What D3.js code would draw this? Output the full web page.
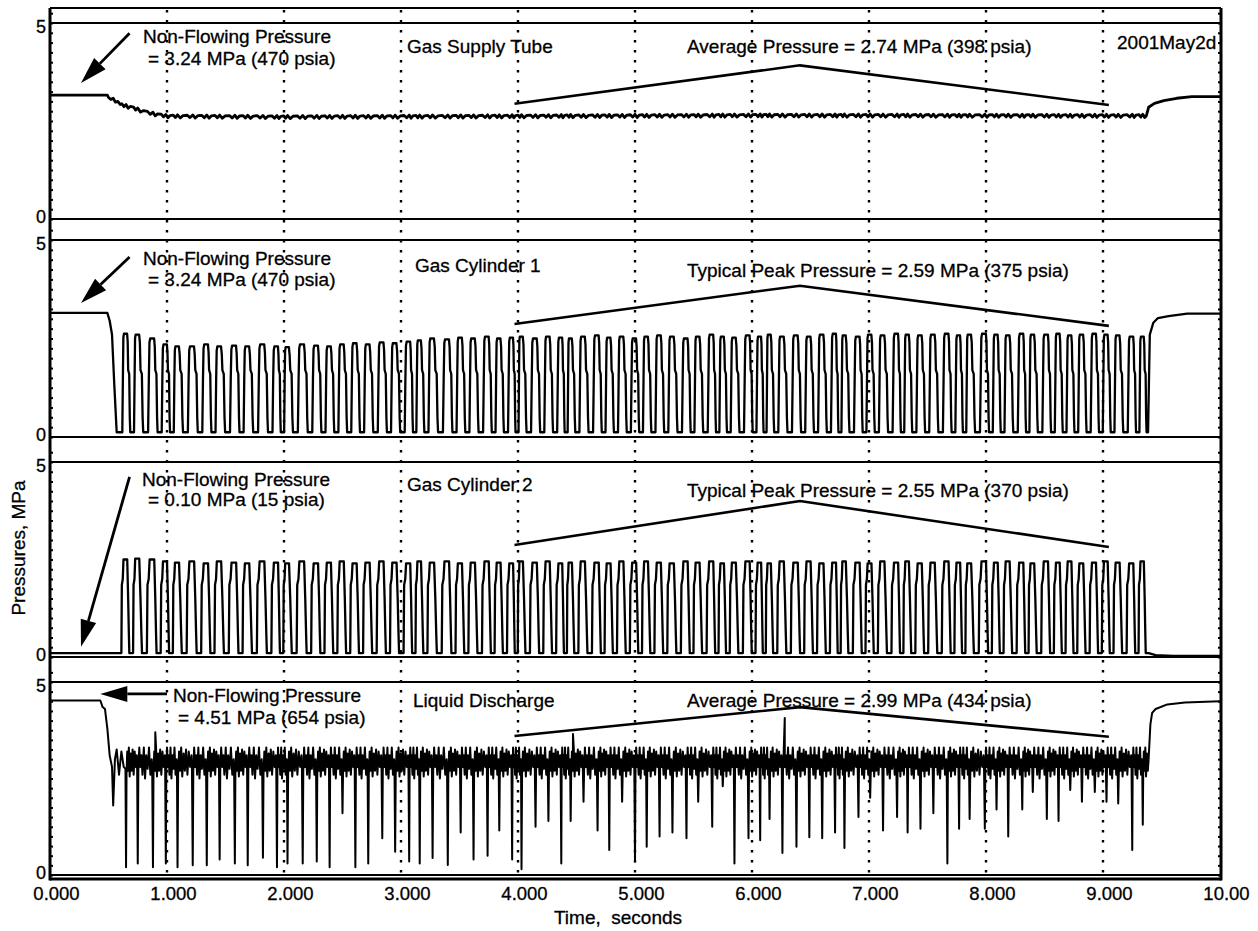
<!DOCTYPE html>
<html><head><meta charset="utf-8">
<script src="https://cdn.jsdelivr.net/npm/d3@7"></script>
<style>
body{margin:0;background:#fff}
svg{display:block}
text{font-family:"Liberation Sans",Arial,Helvetica,sans-serif;fill:#000;stroke:#000;stroke-width:0.3px}
</style></head>
<body><svg id="c" width="1258" height="931"></svg>
<script>
// ---------------- data ----------------
const xTicks = [0,1,2,3,4,5,6,7,8,9,10];
const xTickLabels = ["0.000","1.000","2.000","3.000","4.000","5.000","6.000","7.000","8.000","9.000","10.00"];
const yTicks = [0,5];
const panelNames = ["Gas Supply Tube","Gas Cylinder 1","Gas Cylinder 2","Liquid Discharge"];
const valueNotes = [
  "Average Pressure = 2.74 MPa (398 psia)",
  "Typical Peak Pressure = 2.59 MPa (375 psia)",
  "Typical Peak Pressure = 2.55 MPa (370 psia)",
  "Average Pressure = 2.99 MPa (434 psia)"];
const nonFlowNotes = [
  "= 3.24 MPa (470 psia)",
  "= 3.24 MPa (470 psia)",
  "= 0.10 MPa (15 psia)",
  "= 4.51 MPa (654 psia)"];

// times (s) of each compression cycle, read from the liquid-discharge spikes
const cycleTimes = [0.65,0.75,0.88,0.99,1.09,1.22,1.34,1.45,1.58,1.69,1.82,1.94,2.03,2.16,2.28,2.39,2.50,2.61,2.72,2.84,2.95,3.07,
3.16,3.27,3.40,3.51,3.62,3.74,3.84,3.95,4.03,4.15,4.26,4.37,4.45,4.56,4.68,4.78,4.89,5.00,5.10,5.21,5.32,5.44,5.54,5.66,5.75,5.85,5.97,6.07,6.15,6.26,6.38,6.49,6.60,6.71,6.79,6.91,
7.01,7.12,7.24,7.33,7.44,7.55,7.67,7.77,7.86,7.99,8.09,8.19,8.31,8.40,8.52,8.62,8.72,8.82,8.93,9.03,9.13,9.25,9.34];

// Gas supply tube (MPa)
const supplyStart = [[0,3.16],[0.49,3.16],[0.50,3.10],[0.52,3.05],[0.54,3.08],[0.56,2.98],[0.58,3.00],[0.60,2.92]];
const supplyLevel = [[0.6,2.92],[0.7,2.84],[0.8,2.74],[0.9,2.67],[1.0,2.62],[2.0,2.60],[4.0,2.62],[6.0,2.64],[9.4,2.63]];
const supplyEnd = [[9.37,2.63],[9.39,2.85],[9.44,2.95],[9.52,3.02],[9.63,3.08],[9.76,3.12],[10,3.12]];

// Gas cylinder 1 (MPa)
const cyl1Start = [[0,3.15],[0.49,3.15],[0.51,2.95],[0.53,2.6],[0.55,1.3],[0.57,0.12]];
const cyl1Peaks = [2.62,2.6,2.5,
 2.35,2.3,2.3,2.35,2.3,2.32,2.3,2.35,2.3,2.28,2.35,2.32,2.3,2.35,2.38,2.35,2.4,2.38,2.42,
 2.45,2.5,2.48,2.52,2.5,2.55,2.5,2.52,2.55,2.5,2.55,2.52,2.5,2.55,2.58,2.52,2.55,2.5,2.55,2.58,
 2.55,2.5,2.55,2.6,2.55,2.52,2.58,2.55,2.6,2.55,2.58,2.55,2.6,2.62,2.58,2.55,2.6,2.58,2.62,2.6,
 2.58,2.6,2.62,2.58,2.6,2.62,2.6,2.58,2.62,2.6,2.6,2.62,2.58,2.6,2.62,2.6,2.58,2.55,2.55];
const cyl1Low = 0.12;
const cyl1End = [[9.385,0.12],[9.40,2.6],[9.43,2.9],[9.47,3.02],[9.56,3.07],[9.72,3.13],[10,3.13]];

// Gas cylinder 2 (MPa)
const cyl2Start = [[0,0.1],[0.56,0.1]];
const cyl2Peaks = [2.5,2.52,2.5,2.45,2.42,2.45,2.4,2.45,2.42,2.4,2.45,2.42,2.4,2.45,2.4,2.42,2.45,2.4,2.42,2.45,
 2.42,2.4,2.45,2.42,2.45,2.4,2.42,2.45,2.42,2.4,2.45,2.42,2.45,2.4,2.42,2.45,2.42,2.4,2.45,2.42,
 2.45,2.42,2.4,2.45,2.42,2.45,2.4,2.42,2.45,2.42,2.4,2.45,2.42,2.45,2.4,2.42,2.45,2.42,2.4,2.45,
 2.42,2.45,2.4,2.42,2.45,2.42,2.4,2.45,2.42,2.45,2.42,2.4,2.45,2.42,2.45,2.4,2.42,2.45,2.42,2.4,2.45];
const cyl2Low = 0.1;
const cyl2End = [[9.39,0.1],[9.45,0.05],[9.6,0.03],[10,0.03]];

// Liquid discharge (MPa)
const liquidStart = [[0,4.52],[0.43,4.52],[0.45,4.35],[0.47,4.3],[0.49,3.8],[0.51,3.1],[0.53,2.8],[0.54,1.8],[0.555,3.0],[0.57,3.25],[0.59,2.6],[0.61,3.2],[0.63,2.8]];
const liquidLows = [0.2,0.3,0.2,0.3,0.2,0.25,0.25,0.4,0.3,0.25,0.45,0.2,0.3,0.3,0.35,0.2,1.6,0.2,0.3,0.95,0.6,0.35,
 0.3,0.44,0.26,1.1,0.4,0.5,1.15,0.4,0.15,1.25,1.4,0.3,1.4,1.9,1.15,0.65,1.9,0.35,0.73,1.0,1.1,0.95,1.9,1.25,2.3,0.3,0.95,0.9,1.45,0.57,0.73,0.98,0.95,1.1,0.7,1.5,
 2.0,1.15,1.5,1.1,1.2,1.6,0.3,1.2,1.45,1.2,1.7,1.0,1.7,2.15,1.45,1.4,2.2,1.9,2.15,1.9,1.85,0.65,1.3];
const liquidUpSpikes = [[0.90,3.7],[2.16,4.0],[4.47,3.65],[6.28,4.07]];
const liquidEnd = [[9.39,3.0],[9.405,3.9],[9.42,4.2],[9.45,4.3],[9.55,4.42],[9.7,4.47],[10,4.5]];

// annotation brackets (time s, MPa)
const bracketT = [3.97,6.41,9.05];
const bracketV = [[2.94,3.92,2.91],[2.87,3.84,2.82],[2.87,4.0,2.82],[3.6,4.35,3.58]];
// arrows (time s, MPa): from -> to
const arrowFrom = [[0.68,4.74],[0.68,4.57],[0.68,4.62],[1.0,4.69]];
const arrowTo   = [[0.265,3.47],[0.265,3.4],[0.265,0.26],[0.43,4.69]];

// ---------------- layout ----------------
const svg = d3.select("#c");
const L = 50, R = 1221, T = 8, B = 879;
const xs = d3.scaleLinear().domain([0,10]).range([50,1220]);
const panelsY = [[23,219],[240,437],[462,657],[682,875]];
const ys = panelsY.map(([a,b]) => d3.scaleLinear().domain([0,5]).range([b,a]));

// templates: [fraction of local period, role, value]
const tplCyl1 = [[[-0.32,"l",0],[-0.27,"a",1.5],[-0.23,"p",-0.1],[-0.18,"p",0],[0.09,"p",0],[0.14,"p",-0.2],[0.18,"a",1.7],[0.27,"a",1.6],[0.32,"a",0.5],[0.36,"l",0]]];
const tplCyl2 = [[[-0.4,"l",0],[-0.36,"a",1.85],[-0.28,"a",2.0],[-0.22,"p",0],[0.1,"p",0],[0.18,"a",1.5],[0.24,"a",0.6],[0.28,"l",0]]];
const tplSupply = [[[-0.36,"b",0.03],[-0.18,"b",-0.03],[0,"b",0.04],[0.18,"b",-0.04],[0.36,"b",0.02]]];
const tplLiquid = [
 [[-0.05,"a",2.75],[0,"l",0],[0.04,"a",2.6],[0.1,"a",3.2],[0.17,"a",2.7],[0.24,"a",3.3],[0.31,"a",2.55],[0.4,"a",3.15],[0.48,"a",2.7],[0.56,"a",3.25],[0.65,"a",2.6],[0.74,"a",3.2],[0.83,"a",2.8],[0.92,"a",3.1]],
 [[-0.05,"a",2.7],[0,"l",0],[0.04,"a",2.7],[0.1,"a",3.3],[0.17,"a",2.8],[0.24,"a",3.1],[0.31,"a",2.6],[0.4,"a",3.3],[0.48,"a",2.5],[0.56,"a",3.1],[0.65,"a",2.75],[0.74,"a",3.3],[0.83,"a",2.6],[0.92,"a",3.0]]];

function buildCycles(tpls, peakFn, lowFn, baseFn){
  const pts = [];
  const n = cycleTimes.length;
  cycleTimes.forEach((t,i) => {
    const back = i>0 ? t-cycleTimes[i-1] : cycleTimes[1]-cycleTimes[0];
    const fwd = i<n-1 ? cycleTimes[i+1]-t : t-cycleTimes[i-1];
    tpls[i % tpls.length].forEach(([f,role,d]) => {
      const tt = t + f*(f<0?back:fwd);
      let v;
      if(role==="p") v = peakFn(i)+d;
      else if(role==="l") v = lowFn(i)+d;
      else if(role==="b") v = baseFn(tt)+d;
      else v = d;
      pts.push([tt,v]);
    });
  });
  return pts;
}
function assemble(start, mid, end){
  const t0 = start[start.length-1][0], t1 = end[0][0];
  const all = start.concat(mid.filter(p => p[0]>t0 && p[0]<t1).sort((a,b)=>a[0]-b[0])).concat(end);
  const out = [];
  all.forEach(p => { if(!out.length || p[0] > out[out.length-1][0]) out.push(p); });
  return out;
}

const baseScale = d3.scaleLinear().domain(supplyLevel.map(d=>d[0])).range(supplyLevel.map(d=>d[1])).clamp(true);
const series = [
  assemble(supplyStart, buildCycles(tplSupply, ()=>0, ()=>0, baseScale), supplyEnd),
  assemble(cyl1Start, buildCycles(tplCyl1, i=>cyl1Peaks[i], ()=>cyl1Low), cyl1End),
  assemble(cyl2Start, buildCycles(tplCyl2, i=>cyl2Peaks[i], ()=>cyl2Low), cyl2End),
  assemble(liquidStart, buildCycles(tplLiquid, ()=>0, i=>liquidLows[i]).concat(liquidUpSpikes), liquidEnd)
];

// ---------------- grid ----------------
svg.append("g").selectAll("line").data(xTicks.slice(1,10)).join("line")
  .attr("x1", d=>xs(d)).attr("x2", d=>xs(d)).attr("y1", T+2).attr("y2", B)
  .attr("stroke","#000").attr("stroke-width",2.4).attr("stroke-dasharray","2.4,7.6");

// ---------------- panels ----------------
panelsY.forEach(([a,b],k) => {
  const y = ys[k];
  const g = svg.append("g");
  g.selectAll("line.ref").data(yTicks).join("line").attr("class","ref")
    .attr("x1",L).attr("x2",R).attr("y1",d=>y(d)).attr("y2",d=>y(d))
    .attr("stroke","#000").attr("stroke-width",2.2);
  const ax = g.append("g").attr("transform",`translate(${L},0)`)
    .call(d3.axisLeft(y).tickValues(yTicks).tickSize(0).tickPadding(4).tickFormat(d3.format("d")));
  ax.select(".domain").remove();
  ax.selectAll("text").attr("font-size",18).attr("font-family","Liberation Sans, Arial, sans-serif")
    .attr("dy", d=> d===5 ? "0.55em" : "0.2em");
  const minor = d3.range(0,5.01,0.25).concat([5.25]);
  g.append("g").attr("transform",`translate(${L},0)`)
    .call(d3.axisRight(y).tickValues(minor).tickSize(3).tickFormat(""))
    .call(s=>s.select(".domain").remove()).selectAll("line").attr("stroke-width",2);
  g.append("g").attr("transform",`translate(${R},0)`)
    .call(d3.axisLeft(y).tickValues(minor).tickSize(3).tickFormat(""))
    .call(s=>s.select(".domain").remove()).selectAll("line").attr("stroke-width",2);

  const line = d3.line().x(d=>xs(d[0])).y(d=>y(d[1]));
  g.append("path").datum(series[k]).attr("d",line)
    .attr("fill","none").attr("stroke","#000").attr("stroke-width", k===0?2.8:(k===3?2:2.3))
    .attr("stroke-linejoin","round");

  g.append("path").datum(bracketT.map((t,j)=>[t,bracketV[k][j]])).attr("d",line)
    .attr("fill","none").attr("stroke","#000").attr("stroke-width",2.6);

  const x1=xs(arrowFrom[k][0]), y1=y(arrowFrom[k][1]), x2=xs(arrowTo[k][0]), y2=y(arrowTo[k][1]);
  const ang = Math.atan2(y2-y1,x2-x1), hl=27, hw=8;
  const bx = x2-hl*Math.cos(ang), by = y2-hl*Math.sin(ang);
  g.append("line").attr("x1",x1).attr("y1",y1).attr("x2",bx).attr("y2",by)
    .attr("stroke","#000").attr("stroke-width",2.8);
  g.append("path").attr("d",`M${x2},${y2}L${bx+hw*Math.sin(ang)},${by-hw*Math.cos(ang)}L${bx-hw*Math.sin(ang)},${by+hw*Math.cos(ang)}Z`)
    .attr("fill","#000");
});

// ---------------- texts ----------------
const fs = 19;
const textSpecs = [
  [143,43,"Non-Flowing Pressure"],[148,65,nonFlowNotes[0]],[407,53,panelNames[0]],[687,53,valueNotes[0]],[1117,49,"2001May2d"],
  [143,265,"Non-Flowing Pressure"],[148,285.5,nonFlowNotes[1]],[415,271.5,panelNames[1]],[687,277,valueNotes[1]],
  [142,485.5,"Non-Flowing Pressure"],[148,505.5,nonFlowNotes[2]],[407,490.5,panelNames[2]],[687,496.5,valueNotes[2]],
  [173,701.5,"Non-Flowing Pressure"],[178,723.5,nonFlowNotes[3]],[413,706.5,panelNames[3]],[687,706.5,valueNotes[3]]
];
svg.append("g").selectAll("text").data(textSpecs).join("text")
  .attr("x",d=>d[0]).attr("y",d=>d[1]).attr("font-size",fs).text(d=>d[2]);

// ---------------- frame ----------------
svg.append("line").attr("x1",L).attr("x2",R).attr("y1",T).attr("y2",T).attr("stroke","#000").attr("stroke-width",2.2);
svg.append("line").attr("x1",L).attr("x2",R).attr("y1",B).attr("y2",B).attr("stroke","#000").attr("stroke-width",3);
svg.append("line").attr("x1",L).attr("x2",L).attr("y1",T).attr("y2",B+1.5).attr("stroke","#000").attr("stroke-width",3);
svg.append("line").attr("x1",R).attr("x2",R).attr("y1",T).attr("y2",B+1.5).attr("stroke","#000").attr("stroke-width",3);

// ---------------- x axis ----------------
const xa = svg.append("g").attr("transform",`translate(6,${B})`)
  .call(d3.axisBottom(xs).tickValues(xTicks).tickSize(0).tickPadding(8).tickFormat((d,i)=>xTickLabels[i]));
xa.select(".domain").remove();
xa.selectAll("text").attr("font-size",18.5).attr("font-family","Liberation Sans, Arial, sans-serif");

svg.append("text").attr("x",618).attr("y",924).attr("text-anchor","middle").attr("font-size",19)
  .style("white-space","pre").text("Time,  seconds");
svg.append("text").attr("transform","translate(25,548) rotate(-90)").attr("text-anchor","middle").attr("font-size",19)
  .text("Pressures, MPa");
</script></body></html>
